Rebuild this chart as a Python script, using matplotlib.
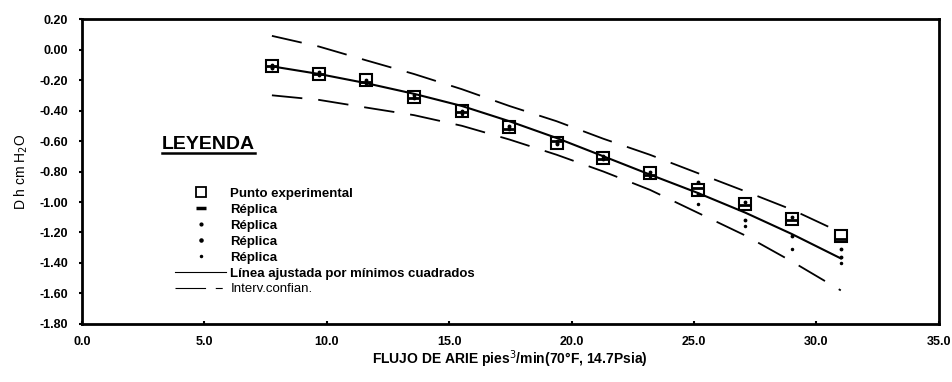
import numpy as np
import matplotlib
matplotlib.use("Agg")
import matplotlib.pyplot as plt
from matplotlib.lines import Line2D

plt.rcParams['font.family'] = ['Liberation Sans', 'DejaVu Sans']
plt.rcParams['lines.scale_dashes'] = False

# --- data
flujo = [7.76, 9.68, 11.60, 13.56, 15.52, 17.46, 19.39, 21.30, 23.20, 25.15, 27.10, 29.00, 31.00]
punto_exp = [-0.11, -0.16, -0.20, -0.31, -0.40, -0.51, -0.61, -0.71, -0.81, -0.92, -1.01, -1.11, -1.22]
replica1 = [-0.11, -0.16, -0.21, -0.32, -0.41, -0.52, -0.60, -0.72, -0.82, -0.91, -1.02, -1.12, -1.24]
replica2 = [-0.12, -0.17, -0.22, -0.30, -0.41, -0.50, -0.62, -0.72, -0.80, -0.87, -1.00, -1.10, -1.31]
replica3 = [-0.10, -0.15, -0.20, -0.32, -0.40, -0.52, -0.61, -0.70, -0.83, -0.95, -1.12, -1.22, -1.36]
replica4 = [-0.12, -0.16, -0.21, -0.31, -0.42, -0.51, -0.60, -0.71, -0.82, -1.01, -1.16, -1.31, -1.40]
ajuste = [-0.11, -0.16, -0.22, -0.29, -0.37, -0.47, -0.58, -0.70, -0.82, -0.94, -1.07, -1.21, -1.37]
conf_sup = [0.09, 0.02, -0.07, -0.16, -0.26, -0.37, -0.47, -0.585, -0.69, -0.81, -0.93, -1.05, -1.20]
conf_inf = [-0.30, -0.33, -0.38, -0.43, -0.50, -0.59, -0.69, -0.80, -0.92, -1.07, -1.22, -1.39, -1.58]

xticks = np.arange(0, 35.1, 5)
yticks = np.arange(0.2, -1.81, -0.2)

fig = plt.figure(figsize=(9.53, 3.82), dpi=100)
ax = fig.add_axes([0.086, 0.152, 0.899, 0.798])

dash = (0, (22, 11.5))
ax.plot(flujo, conf_sup, color='black', lw=1.3, linestyle=dash)
ax.plot(flujo, conf_inf, color='black', lw=1.3, linestyle=dash)
ax.plot(flujo, ajuste, color='black', lw=1.5)
ax.plot(flujo, punto_exp, 's', ms=9, mfc='none', mec='black', mew=1.5)
ax.plot(flujo, replica1, '_', ms=8, mec='black', mew=2)
ax.plot(flujo, replica2, '.', ms=3.5, color='black')
ax.plot(flujo, replica3, '.', ms=3.5, color='black')
ax.plot(flujo, replica4, '.', ms=3, color='black')

ax.set_xlim(0, 35)
ax.set_ylim(-1.8, 0.2)
ax.tick_params(axis='y', direction='out', length=2, width=1.5, pad=8)
ax.tick_params(axis='x', direction='in', length=2, width=1.5, pad=9)
ax.set_xticks(xticks)
ax.set_xticklabels(['%.1f' % v for v in xticks], fontweight='bold', fontsize=9)
ax.set_yticks(yticks)
ax.set_yticklabels(['%.2f' % v for v in yticks], fontweight='bold', fontsize=9)
for sp in ax.spines.values():
    sp.set_linewidth(2)

ax.set_xlabel('FLUJO DE ARIE pies$^3$/min(70°F, 14.7Psia)', fontsize=10, fontweight='bold', labelpad=0)
ax.set_ylabel('D h cm H$_2$O', fontsize=10, labelpad=7)

# --- legend
ax.text(0.093, 0.574, 'LEYENDA', transform=ax.transAxes, fontsize=14, fontweight='bold',
        ha='left', va='baseline')
ax.plot([0.093, 0.202], [0.562, 0.562], transform=ax.transAxes, color='black', lw=1.8)

handles = [
    Line2D([], [], marker='s', ls='none', ms=7.5, mfc='none', mec='black', mew=1.3),
    Line2D([], [], marker='_', ls='none', ms=7, mec='black', mew=2.5),
    Line2D([], [], marker='.', ls='none', ms=4, color='black'),
    Line2D([], [], marker='.', ls='none', ms=4.5, color='black'),
    Line2D([], [], marker='.', ls='none', ms=3, color='black'),
    Line2D([], [], color='black', lw=0.8),
    Line2D([], [], color='black', lw=0.8, linestyle=(0, (22, 7, 5, 100))),
]
labels = ['Punto experimental', 'Réplica', 'Réplica', 'Réplica', 'Réplica',
          'Línea ajustada por mínimos cuadrados', 'Interv.confian.']
leg = ax.legend(handles, labels, loc='upper left', bbox_to_anchor=(0.1085, 0.447),
                frameon=False, fontsize=9.5, handlelength=3.9, handletextpad=0.3,
                labelspacing=0.28, borderpad=0, borderaxespad=0)
for i, t in enumerate(leg.get_texts()):
    if i < 6:
        t.set_fontweight('bold')

fig.savefig('out.png', dpi=100)
